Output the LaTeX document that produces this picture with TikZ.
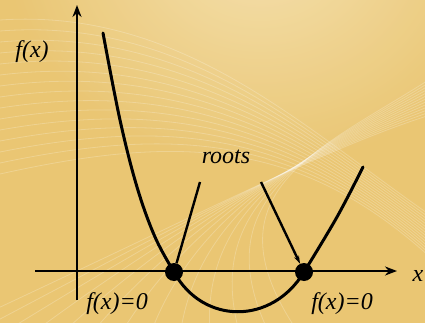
\documentclass[tikz,border=0pt]{standalone}
\usepackage{fontspec}
\setmainfont{Liberation Serif}
\usetikzlibrary{arrows.meta, positioning}

\definecolor{goldbase}{HTML}{EAC673}
\definecolor{goldlight}{HTML}{F6E4B6}

\begin{document}
\begin{tikzpicture}[
    x=1pt, y=-1pt,
    every node/.style={font=\rmfamily\itshape\fontsize{24}{28}\selectfont},
    axis/.style={line width=2.2pt, -{Stealth[length=12pt,width=9pt]}},
    curve/.style={line width=3pt, line cap=round},
    pointer/.style={line width=2.4pt},
    rootdot/.style={circle, fill=black, minimum size=18pt, inner sep=0pt},
    swirl/.style={white, line width=0.8pt, opacity=0.22}
]
\useasboundingbox (0,0) rectangle (425,323);
% background
\fill[goldbase] (0,0) rectangle (425,323);
\shade[inner color=goldlight, outer color=goldbase, opacity=0.9] (260,-60) ellipse [x radius=260pt, y radius=230pt];
\foreach \i in {0,...,14}
  \draw[swirl] (0,20+11*\i) .. controls (180,8+9*\i) and (300,125+\i) .. (430,215+3*\i);
\foreach \i in {0,...,12}
  \draw[swirl] (30*\i-60,335) .. controls (200,215-2*\i) and (320,150) .. (430,115-3*\i);
% axes
\coordinate (xstart) at (35,271);
\coordinate (xend) at (397,271);
\coordinate (ystart) at (77,300);
\coordinate (yend) at (77,5);
\draw[axis] (xstart) -- (xend);
\draw[axis] (ystart) -- (yend);
\node (xlabel) at (418,276) {x};
\node (ylabel) at (32,52) {f(x)};
% function
\draw[curve] plot[smooth, tension=0.6] coordinates {(103,33) (120,120) (137,187) (155,237) (174,272)}
  .. controls (203,325) and (272,325) .. (304,272)
  -- plot[smooth, tension=0.6] coordinates {(304,272) (337,217) (363,167)};
\node[rootdot] (root1) at (174,272) {};
\node[rootdot] (root2) at (304,272) {};
\node (left0) at (117,304) {f(x)=0};
\node (right0) at (342,304) {f(x)=0};
% roots pointers
\node (roots) at (226,157) {roots};
\coordinate (p1) at (200,182);
\coordinate (p2) at (261,182);
\draw[pointer] (p1) -- (root1);
\draw[pointer, -{Stealth[length=8pt,width=5pt]}] (p2) -- (root2);
\end{tikzpicture}
\end{document}
